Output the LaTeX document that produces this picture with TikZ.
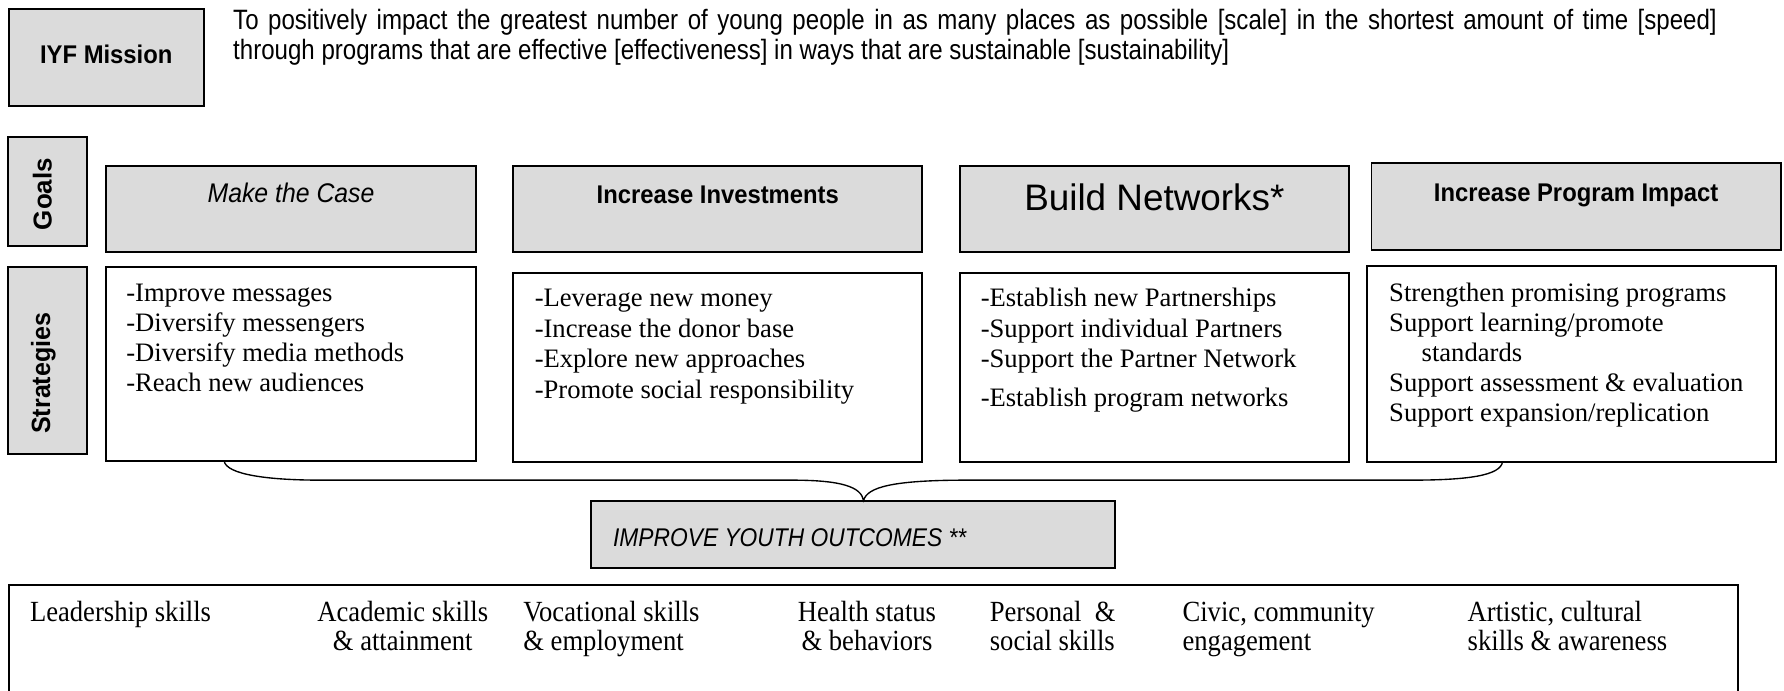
\documentclass[tikz,border=0pt]{standalone}
\usepackage{fontspec}
\usetikzlibrary{calc}
\setmainfont{Liberation Serif}
% narrow sans faces for the mission line and the goal titles
\newfontfamily\missionfont[FakeStretch=0.86]{Liberation Sans}
\newfontfamily\goalfont[FakeStretch=0.93]{Liberation Sans}
\newfontfamily\casefont[FakeStretch=0.92]{Liberation Sans}
\newfontfamily\outfont[FakeStretch=0.89]{Liberation Sans}
\newfontfamily\netfont{Liberation Sans}
\newfontfamily\lblfont{Liberation Sans}
\newfontfamily\stratlblfont[FakeStretch=0.95]{Liberation Sans}
\newfontfamily\skillfont[FakeStretch=0.91]{Liberation Serif}
\definecolor{boxgrey}{gray}{0.86}

\tikzset{
  frame/.style={draw=black, line width=0.8pt, inner sep=0pt, outer sep=0pt, anchor=north west},
  greybox/.style={frame, fill=boxgrey},
  whitebox/.style={frame, fill=white},
  txt/.style={inner sep=0pt, outer sep=0pt},
  brace/.style={draw=black, line width=0.6pt},
  missiontext/.style={txt, font=\missionfont\fontsize{12.3pt}{13.45pt}\selectfont},
  goaltitle/.style={txt, anchor=base, font=\goalfont\bfseries\fontsize{11.25pt}{13pt}\selectfont},
  strattext/.style={txt, anchor=north west, align=left, font=\fontsize{11.7pt}{#1}\selectfont},
  strattext/.default={13.2pt},
  skilltext/.style={txt, font=\skillfont\fontsize{12.85pt}{12.9pt}\selectfont},
}

\begin{document}
\begin{tikzpicture}[x=0.5pt, y=-0.5pt]
\useasboundingbox (0,0) rectangle (1568,607);
\clip (0,0) rectangle (1568,607);
\fill[white] (0,0) rectangle (1568,607);

% mission statement
\node[greybox, minimum width=85.75pt, minimum height=42.5pt] (mission) at (7.6,8.2) {};
\node[goaltitle] (missionlbl) at (93.4,55.7) {IYF Mission};
\node[missiontext, anchor=north west, align=left] (missiontxt) at (205,6.97)
  {\strut\makebox[652pt][s]{To positively impact the greatest number of young people in as many places as possible [scale] in the shortest amount of time [speed]}\\
   through programs that are effective [effectiveness] in ways that are sustainable [sustainability]};

% row labels
\node[greybox, minimum width=34.7pt, minimum height=48.05pt] (goalslbl) at (7.3,120.1) {};
\node[txt, rotate=90, anchor=base, font=\lblfont\bfseries\fontsize{11.4pt}{13pt}\selectfont] (goalstxt) at (45.4,170.5) {Goals};
\node[greybox, minimum width=34.7pt, minimum height=82.45pt] (stratlbl) at (7.3,234.4) {};
\node[txt, rotate=90, anchor=base, font=\stratlblfont\bfseries\fontsize{11.6pt}{13pt}\selectfont] (strattxt) at (44,328) {Strategies};

% goals
\node[greybox, minimum width=162.6pt, minimum height=37.8pt] (g1) at (93.2,145.6) {};
\node[txt, anchor=base, font=\casefont\itshape\fontsize{11.85pt}{13pt}\selectfont] (g1txt) at (255.8,178.1) {Make the Case};
\node[greybox, minimum width=179.7pt, minimum height=38.1pt] (g2) at (451.2,145.6) {};
\node[goaltitle] (g2txt) at (630.9,178.7) {Increase Investments};
\node[greybox, minimum width=170.95pt, minimum height=38.1pt] (g3) at (843.7,145.6) {};
\node[txt, anchor=base, font=\netfont\fontsize{16.2pt}{18pt}\selectfont] (g3txt) at (1014.6,185.2) {Build Networks*};
\node[greybox, minimum width=179.75pt, minimum height=38.05pt] (g4) at (1205.5,143.6) {};
\node[goaltitle] (g4txt) at (1385.3,177.2) {Increase Program Impact};

% strategies
\node[whitebox, minimum width=162.6pt, minimum height=85.4pt] (s1) at (93.2,234.4) {};
\node[strattext] (s1txt) at (111,246.5)
  {\strut -Improve messages\\-Diversify messengers\\-Diversify media methods\\-Reach new audiences};
\node[whitebox, minimum width=179.7pt, minimum height=82.8pt] (s2) at (451.2,240.2) {};
\node[strattext=13.45pt] (s2txt) at (470,250.7)
  {\strut -Leverage new money\\-Increase the donor base\\-Explore new approaches\\-Promote social responsibility};
\node[whitebox, minimum width=170.95pt, minimum height=82.8pt] (s3) at (843.7,240.2) {};
\node[strattext=13.45pt] (s3txt) at (862,250.7)
  {\strut -Establish new Partnerships\\-Support individual Partners\\-Support the Partner Network\\[3.4pt]-Establish program networks};
\node[whitebox, minimum width=179.65pt, minimum height=86pt] (s4) at (1201.7,233.8) {};
\node[strattext] (s4txt) at (1221,246.5)
  {\strut Strengthen promising programs\\Support learning/promote\\\hspace*{14.25pt}standards\\Support assessment \& evaluation\\Support expansion/replication};

% youth outcomes
\node[greybox, minimum width=230.2pt, minimum height=29.5pt] (improve) at (519.6,440) {};
\node[txt, anchor=base west, font=\outfont\itshape\fontsize{11.25pt}{13pt}\selectfont] (improvetxt) at (538.9,480.5) {IMPROVE YOUTH OUTCOMES **};

% brace gathering the four strategies
\coordinate (braceL) at ($(s1.south west)+(103.8,0)$);
\coordinate (braceR) at ($(s4.south west)+(118.9,0)$);
\coordinate (braceTip) at ($(improve.north west)+(239.4,0)$);
\draw[brace] (braceL) .. controls (199,417) and (235,422) .. (282,422)
  -- (696,422) .. controls (740,422) and (757,428) .. (braceTip)
  .. controls (762,428) and (785,422) .. (850,422)
  -- (1240,422) .. controls (1290,422) and (1319,418) .. (braceR);

% outcome areas
\node[frame, minimum width=759.8pt, minimum height=70pt] (outcomes) at (7.6,514.2) {};
\node[skilltext, anchor=north west, align=left] (o1) at (26.4,528.3) {\strut Leadership skills};
\node[skilltext, anchor=north, align=center] (o2) at (354,528.3) {\strut Academic skills\\\& attainment};
\node[skilltext, anchor=north west, align=left] (o3) at (460,528.3) {\strut Vocational skills\\\& employment};
\node[skilltext, anchor=north, align=center] (o4) at (762,528.3) {\strut Health status\\\& behaviors};
\node[skilltext, anchor=north west, align=left] (o5) at (870,528.3) {\strut Personal~ \&\\social skills};
\node[skilltext, anchor=north west, align=left] (o6) at (1039.4,528.3) {\strut Civic, community\\engagement};
\node[skilltext, anchor=north west, align=left] (o7) at (1290,528.3) {\strut Artistic, cultural\\skills \& awareness};
\end{tikzpicture}
\end{document}
